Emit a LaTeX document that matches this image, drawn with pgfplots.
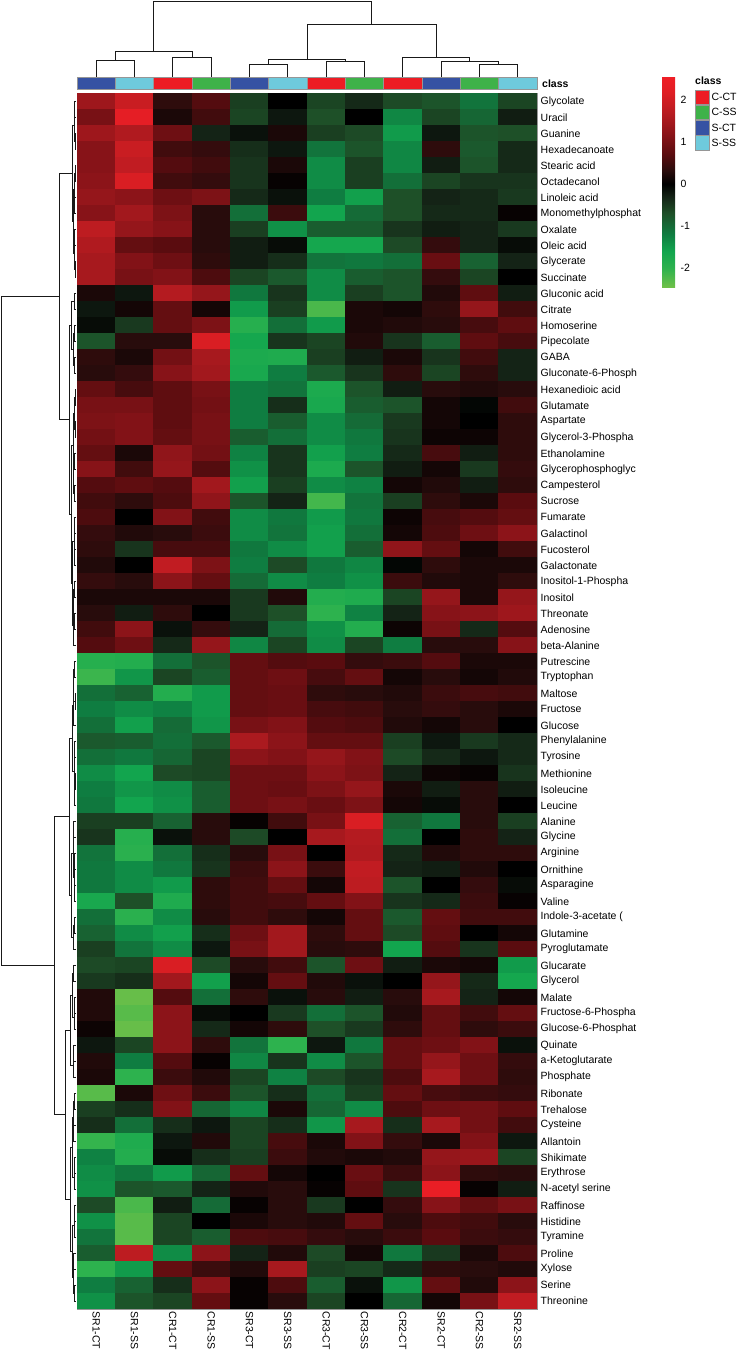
\documentclass[border=0pt]{standalone}
\usepackage{fontspec}
\setmainfont{Liberation Sans}
\usepackage{pgfplots}
\usepackage{pgfplotstable}
\pgfplotsset{compat=1.18}

\definecolor{cCT}{RGB}{237,28,36}
\definecolor{cSS}{RGB}{62,178,73}
\definecolor{sCT}{RGB}{54,82,163}
\definecolor{sSS}{RGB}{110,202,220}
\definecolor{cellgrid}{RGB}{150,150,150}
\definecolor{dendro}{RGB}{25,25,25}
\newcommand\lab{\fontsize{10.5}{12}\selectfont}

\pgfdeclareplotmark{cell}{%
  \pgfpathrectangle{\pgfpoint{-19.4pt}{-8.2pt}}{\pgfpoint{38.8pt}{16.4pt}}%
  \pgfusepathqfill}

\pgfplotsset{
  colormap={gbr}{
    rgb255(0cm)=(110,192,72)
    rgb255(0.45cm)=(45,178,78)
    rgb255(0.85cm)=(18,165,78)
    rgb255(1.25cm)=(15,125,65)
    rgb255(1.75cm)=(30,80,40)
    rgb255(2.15cm)=(20,35,22)
    rgb255(2.45cm)=(0,0,0)
    rgb255(2.75cm)=(40,12,12)
    rgb255(3.15cm)=(90,12,15)
    rgb255(3.65cm)=(140,20,25)
    rgb255(4.15cm)=(185,28,33)
    rgb255(4.65cm)=(225,30,36)
    rgb255(5.01cm)=(240,30,38)
  },
  dend/.style={dendro, line width=0.9pt, mark=none},
}

% heatmap values, row-major: 76 metabolites x 12 samples
% columns: SR1-CT SR1-SS CR1-CT CR1-SS SR3-CT SR3-SS CR3-CT CR3-SS CR2-CT SR2-CT CR2-SS SR2-SS
\pgfplotstableread[row sep=\\]{
v\\
1.4\\1.9\\0.35\\0.65\\-0.55\\0.0\\-0.6\\-0.35\\-0.65\\-0.75\\-1.1\\-0.6\\
1.0\\2.3\\0.2\\0.5\\-0.6\\-0.2\\-0.7\\0.0\\-1.3\\-0.6\\-0.95\\-0.25\\
1.4\\1.6\\0.9\\-0.3\\-0.15\\0.2\\-0.55\\-0.65\\-1.5\\-0.2\\-0.75\\-0.7\\
1.15\\1.9\\0.5\\0.4\\-0.4\\-0.2\\-1.1\\-0.75\\-1.3\\0.35\\-0.8\\-0.35\\
1.15\\1.8\\0.65\\0.5\\-0.45\\0.2\\-1.35\\-0.55\\-1.3\\-0.25\\-0.75\\-0.35\\
1.2\\2.1\\0.5\\0.4\\-0.45\\0.05\\-1.35\\-0.55\\-1.05\\-0.6\\-0.45\\-0.45\\
1.3\\1.2\\0.9\\1.05\\-0.35\\-0.15\\-1.2\\-1.55\\-0.7\\-0.3\\-0.35\\-0.5\\
1.15\\1.45\\1.05\\0.3\\-1.05\\0.45\\-1.6\\-1.0\\-0.7\\-0.35\\-0.35\\0.05\\
1.75\\1.3\\1.15\\0.3\\-0.55\\-1.4\\-0.85\\-0.85\\-0.45\\-0.25\\-0.3\\-0.5\\
1.6\\0.8\\0.7\\0.3\\-0.25\\-0.1\\-1.65\\-1.65\\-0.65\\0.4\\-0.3\\-0.1\\
1.5\\1.1\\0.9\\0.35\\-0.25\\-0.4\\-1.1\\-1.15\\-1.05\\0.85\\-0.9\\-0.3\\
1.5\\1.0\\1.1\\0.6\\-0.6\\-0.8\\-1.35\\-0.85\\-0.75\\0.4\\-0.6\\0.0\\
0.2\\-0.2\\1.65\\1.3\\-1.15\\-0.45\\-1.35\\-0.55\\-0.75\\0.25\\0.75\\-0.25\\
-0.2\\0.15\\0.8\\0.15\\-1.5\\-0.55\\-2.2\\0.2\\0.15\\0.35\\1.3\\0.5\\
-0.1\\-0.5\\0.8\\1.05\\-1.9\\-1.05\\-1.5\\0.2\\0.25\\0.3\\0.55\\0.75\\
-0.75\\0.3\\0.3\\2.1\\-1.65\\-0.45\\-0.6\\0.25\\-0.45\\-0.85\\0.75\\0.55\\
0.35\\0.2\\0.95\\1.5\\-1.75\\-1.8\\-0.55\\-0.25\\0.2\\-0.45\\0.5\\-0.3\\
0.3\\0.4\\1.15\\1.45\\-1.7\\-1.2\\-0.8\\-0.45\\0.35\\-0.6\\0.35\\-0.3\\
0.8\\0.55\\0.75\\1.0\\-1.2\\-1.1\\-1.75\\-0.75\\-0.25\\0.3\\0.25\\0.3\\
1.0\\1.0\\0.75\\0.95\\-1.2\\-0.4\\-1.7\\-0.85\\-0.75\\0.15\\-0.05\\0.5\\
1.05\\1.1\\0.75\\1.0\\-1.2\\-0.85\\-1.35\\-1.0\\-0.5\\0.15\\0.0\\0.35\\
0.95\\1.1\\0.8\\1.0\\-0.85\\-1.05\\-1.35\\-1.15\\-0.45\\0.1\\0.1\\0.35\\
0.8\\0.2\\1.25\\0.95\\-1.25\\-0.45\\-1.55\\-1.2\\-0.35\\0.55\\-0.25\\0.35\\
1.15\\0.5\\1.3\\0.65\\-1.4\\-0.45\\-1.75\\-0.75\\-0.25\\0.15\\-0.5\\0.4\\
0.65\\0.75\\0.65\\1.45\\-1.55\\-0.55\\-1.35\\-1.25\\0.15\\0.25\\-0.25\\0.35\\
0.5\\0.35\\0.6\\1.25\\-0.75\\-0.3\\-2.15\\-1.1\\-0.55\\0.35\\0.2\\0.7\\
0.6\\0.0\\1.1\\0.5\\-1.35\\-1.15\\-1.5\\-1.15\\0.1\\0.55\\0.65\\0.8\\
0.4\\0.25\\0.3\\0.45\\-1.35\\-1.1\\-1.55\\-1.05\\0.15\\0.6\\0.9\\1.2\\
0.35\\-0.45\\0.55\\0.55\\-1.15\\-1.35\\-1.55\\-0.85\\1.25\\0.8\\0.15\\0.5\\
0.25\\0.0\\1.8\\1.05\\-1.2\\-0.65\\-1.15\\-1.3\\-0.05\\0.35\\0.2\\0.2\\
0.4\\0.3\\1.2\\0.8\\-1.0\\-1.35\\-1.2\\-1.4\\0.45\\0.25\\0.2\\0.35\\
0.2\\0.2\\0.2\\0.2\\-0.5\\0.25\\-1.85\\-1.8\\-0.6\\1.3\\0.2\\1.3\\
0.3\\-0.25\\0.35\\0.0\\-0.5\\-0.7\\-2.0\\-1.25\\-0.3\\1.15\\1.2\\1.4\\
0.5\\1.2\\-0.15\\0.4\\-0.3\\-1.0\\-1.4\\-1.85\\0.1\\1.0\\-0.35\\0.65\\
0.65\\0.9\\-0.35\\1.3\\-1.3\\-0.6\\-1.35\\-0.6\\-1.2\\0.3\\0.3\\1.15\\
-1.9\\-1.85\\-1.05\\-0.75\\0.8\\0.65\\0.7\\0.4\\0.45\\0.65\\0.2\\0.2\\
-2.1\\-1.45\\-0.6\\-0.85\\0.8\\0.9\\0.55\\0.8\\0.15\\0.3\\0.15\\0.25\\
-1.05\\-0.9\\-1.85\\-1.5\\0.8\\0.85\\0.35\\0.3\\0.25\\0.45\\0.55\\0.5\\
-1.2\\-1.35\\-1.25\\-1.5\\0.8\\0.85\\0.55\\0.5\\0.3\\0.4\\0.3\\0.2\\
-1.05\\-1.55\\-1.0\\-1.45\\1.0\\1.1\\0.65\\0.6\\0.25\\0.15\\0.3\\0.0\\
-0.8\\-0.85\\-1.05\\-0.8\\1.55\\1.2\\0.8\\0.8\\-0.55\\-0.2\\-0.5\\-0.35\\
-1.05\\-1.15\\-0.95\\-0.6\\1.2\\1.1\\1.3\\1.1\\-0.65\\-0.35\\-0.2\\-0.35\\
-1.35\\-1.6\\-0.65\\-0.6\\0.9\\0.9\\1.2\\1.05\\-0.3\\0.1\\0.05\\-0.45\\
-1.2\\-1.45\\-1.35\\-0.85\\0.9\\0.85\\1.05\\1.3\\0.2\\-0.25\\0.3\\-0.25\\
-1.15\\-1.6\\-1.4\\-0.85\\0.9\\1.0\\0.85\\1.05\\0.15\\-0.1\\0.3\\0.0\\
-0.55\\-0.55\\-0.9\\0.3\\0.05\\0.5\\1.0\\2.1\\-0.9\\-1.15\\0.3\\-0.55\\
-0.45\\-1.9\\-0.15\\0.3\\-0.65\\0.0\\1.5\\1.65\\-1.05\\0.0\\0.35\\-0.3\\
-1.1\\-1.95\\-1.05\\-0.4\\0.3\\1.0\\0.0\\1.6\\-0.35\\0.25\\0.35\\0.35\\
-1.15\\-1.35\\-1.15\\-0.45\\0.45\\1.2\\0.45\\1.8\\-0.3\\-0.25\\0.25\\0.0\\
-1.15\\-1.35\\-1.5\\0.35\\0.5\\0.8\\0.15\\1.75\\-0.75\\0.0\\0.4\\-0.1\\
-1.7\\-0.7\\-1.8\\0.35\\0.5\\0.55\\0.8\\1.1\\-0.45\\-0.35\\0.45\\0.05\\
-1.05\\-1.95\\-1.35\\0.3\\0.5\\0.35\\0.15\\0.8\\-0.8\\0.8\\0.5\\0.5\\
-0.9\\-1.35\\-1.55\\-0.4\\0.9\\1.45\\0.35\\0.8\\-0.65\\0.75\\0.0\\0.15\\
-0.55\\-1.1\\-1.35\\-0.2\\1.0\\1.45\\0.3\\0.35\\-1.6\\0.65\\-0.45\\0.7\\
-0.65\\-0.6\\2.1\\-0.65\\0.3\\0.5\\-0.75\\0.9\\-0.25\\0.2\\0.15\\-1.5\\
-0.5\\-0.4\\1.45\\-1.55\\0.15\\0.8\\0.25\\-0.15\\0.0\\1.3\\-0.35\\-1.65\\
0.25\\-2.4\\0.65\\-1.05\\0.35\\-0.15\\0.3\\-0.25\\0.3\\1.5\\-0.3\\0.15\\
0.25\\-2.3\\1.2\\-0.1\\0.0\\-0.5\\-1.05\\-0.75\\0.25\\0.8\\0.5\\0.8\\
0.1\\-2.4\\1.2\\-0.35\\0.15\\0.35\\-0.7\\-0.5\\0.35\\0.8\\0.35\\0.45\\
-0.2\\-0.6\\1.2\\0.35\\-1.1\\-2.0\\-0.2\\-1.15\\0.8\\0.9\\1.1\\-0.15\\
0.25\\-1.2\\0.65\\0.05\\-1.3\\-0.45\\-1.35\\-0.75\\0.8\\1.3\\0.9\\0.4\\
0.2\\-2.0\\0.45\\0.25\\-0.6\\-1.25\\-0.65\\-0.45\\0.6\\1.5\\0.9\\0.35\\
-2.3\\0.2\\0.9\\0.45\\-0.75\\-0.4\\-1.05\\-0.55\\0.8\\0.55\\0.45\\0.4\\
-0.55\\-0.4\\1.1\\-0.95\\-1.3\\0.2\\-0.95\\-1.35\\0.6\\0.9\\0.95\\0.75\\
-0.4\\-1.05\\-0.4\\-0.2\\-0.6\\-0.4\\-1.45\\1.5\\-0.4\\1.5\\0.95\\0.5\\
-2.05\\-1.8\\-0.2\\0.25\\-0.6\\0.55\\0.2\\1.1\\0.4\\0.2\\1.1\\-0.2\\
-1.25\\-1.85\\-0.1\\-0.4\\-0.55\\0.45\\0.25\\0.2\\0.25\\1.3\\1.35\\-0.6\\
-1.35\\-1.15\\-1.5\\-0.95\\0.8\\0.15\\0.0\\0.85\\0.45\\1.2\\0.35\\0.3\\
-1.4\\-0.75\\-0.8\\-0.3\\0.25\\0.3\\0.05\\0.75\\-0.45\\2.4\\0.05\\-0.25\\
-0.65\\-2.2\\-0.25\\-1.0\\0.05\\0.3\\-0.5\\0.0\\0.4\\1.15\\0.8\\1.0\\
-1.4\\-2.3\\-0.6\\0.0\\0.2\\0.3\\0.25\\0.8\\0.3\\0.6\\0.5\\0.3\\
-1.1\\-2.3\\-0.6\\-0.85\\0.6\\0.55\\0.4\\0.3\\0.45\\0.7\\0.45\\0.4\\
-0.85\\1.75\\-1.35\\1.2\\-0.3\\0.25\\-0.65\\0.15\\-1.15\\-0.5\\0.2\\0.6\\
-2.0\\-1.5\\0.8\\0.45\\0.25\\1.5\\-0.55\\-0.6\\-0.35\\0.35\\0.3\\0.25\\
-1.2\\-0.9\\-0.4\\1.2\\0.05\\0.6\\-0.85\\-0.15\\-1.45\\0.8\\0.25\\1.2\\
-1.4\\-0.75\\-0.6\\0.8\\0.05\\0.3\\-0.6\\0.0\\-0.95\\0.15\\1.0\\1.8\\
}\heat
\pgfplotstablecreatecol[create col/expr={floor((\pgfplotstablerow+0.5)/12)}]{r}\heat
\pgfplotstablecreatecol[create col/expr={\pgfplotstablerow-12*floor((\pgfplotstablerow+0.5)/12)}]{c}\heat

\begin{document}
\begin{tikzpicture}
\path[use as bounding box] (0pt,0pt) rectangle (742pt,-1358pt);

% ---------------- heatmap ----------------
\begin{axis}[
  at={(77pt,-93.3pt)}, anchor=north west,
  width=460pt, height=1216pt, scale only axis,
  xmin=-0.5, xmax=11.5, ymin=-0.5, ymax=75.5, y dir=reverse,
  colormap name=gbr, point meta min=-2.45, point meta max=2.56,
  xtick={0,...,11},
  xticklabels={SR1-CT,SR1-SS,CR1-CT,CR1-SS,SR3-CT,SR3-SS,CR3-CT,CR3-SS,CR2-CT,SR2-CT,CR2-SS,SR2-SS},
  xticklabel pos=lower,
  xticklabel style={rotate=-90, anchor=west, font=\lab, inner sep=2pt},
  ytick={0,...,75},
  yticklabels={Glycolate,Uracil,Guanine,Hexadecanoate,Stearic acid,Octadecanol,Linoleic acid,Monomethylphosphat,Oxalate,Oleic acid,Glycerate,Succinate,Gluconic acid,Citrate,Homoserine,Pipecolate,GABA,Gluconate-6-Phosph,Hexanedioic acid,Glutamate,Aspartate,Glycerol-3-Phospha,Ethanolamine,Glycerophosphoglyc,Campesterol,Sucrose,Fumarate,Galactinol,Fucosterol,Galactonate,Inositol-1-Phospha,Inositol,Threonate,Adenosine,beta-Alanine,Putrescine,Tryptophan,Maltose,Fructose,Glucose,Phenylalanine,Tyrosine,Methionine,Isoleucine,Leucine,Alanine,Glycine,Arginine,Ornithine,Asparagine,Valine,{Indole-3-acetate (},Glutamine,Pyroglutamate,Glucarate,Glycerol,Malate,Fructose-6-Phospha,Glucose-6-Phosphat,Quinate,a-Ketoglutarate,Phosphate,Ribonate,Trehalose,Cysteine,Allantoin,Shikimate,Erythrose,N-acetyl serine,Raffinose,Histidine,Tyramine,Proline,Xylose,Serine,Threonine},
  yticklabel pos=right,
  yticklabel style={anchor=west, font=\lab, inner sep=2pt, xshift=1.5pt},
  major tick length=0pt, minor tick length=0pt,
  minor xtick={-0.5,0.5,...,11.5},
  minor ytick={-0.5,0.5,...,75.5},
  xminorgrids=true, yminorgrids=true,
  minor grid style={cellgrid, line width=0.8pt},
  axis line style={cellgrid, line width=0.8pt},
  axis on top,
  colorbar,
  colorbar style={
    at={(parent axis.north east)}, anchor=north west,
    xshift=116.5pt, yshift=17.3pt,
    width=13pt, height=211pt, scale only axis,
    y dir=normal,
    ytick={-2,-1,0,1,2},
    yticklabels={-2,-1,0,1,2},
    yticklabel style={font=\lab, xshift=2pt},
    major tick length=0pt,
    axis line style={draw=none},
  },
]
\addplot[scatter, only marks, mark=cell, point meta=explicit,
  scatter/use mapped color={draw=none, fill=mapped color}]
  table[x=c, y=r, meta=v] {\heat};
\end{axis}

% ---------------- class bar + legend ----------------
\begin{axis}[
  at={(77pt,-77.7pt)}, anchor=north west,
  width=460pt, height=11.6pt, scale only axis,
  xmin=-0.5, xmax=11.5, ymin=0, ymax=1,
  hide axis, clip=false,
  legend image code/.code={\draw[#1, draw=cellgrid, line width=0.8pt] (0pt,-7.25pt) rectangle (14pt,7.25pt);},
  legend style={at={(1.3435,0)}, anchor=north west, draw=none, fill=none,
    inner sep=0pt, row sep=0pt, font=\lab, cells={anchor=west},
    nodes={inner sep=1.5pt, text height=9pt, text depth=2.5pt}},
]
\addplot[ybar, bar width=1, bar shift=0pt, fill=cCT, draw=cellgrid, line width=0.8pt] coordinates {(2,1) (6,1) (8,1)};
\addlegendentry{C-CT}
\addplot[ybar, bar width=1, bar shift=0pt, fill=cSS, draw=cellgrid, line width=0.8pt] coordinates {(3,1) (7,1) (10,1)};
\addlegendentry{C-SS}
\addplot[ybar, bar width=1, bar shift=0pt, fill=sCT, draw=cellgrid, line width=0.8pt] coordinates {(0,1) (4,1) (9,1)};
\addlegendentry{S-CT}
\addplot[ybar, bar width=1, bar shift=0pt, fill=sSS, draw=cellgrid, line width=0.8pt] coordinates {(1,1) (5,1) (11,1)};
\addlegendentry{S-SS}
\node[anchor=west, font=\lab\bfseries, inner sep=0pt, xshift=5pt] at (axis description cs:1,0.5) {class};
\node[anchor=west, font=\lab\bfseries, inner sep=0pt] at (axis description cs:1.3435,0.75) {class};
\end{axis}

% ---------------- column dendrogram ----------------
\begin{axis}[
  at={(77pt,-76.7pt)}, anchor=south west,
  width=460pt, height=75.7pt, scale only axis,
  xmin=-0.5, xmax=11.5, ymin=0, ymax=75.7,
  hide axis, clip=false,
]
\addplot[dend] coordinates {(0,0)(0,16.7)(1,16.7)(1,0)};
\addplot[dend] coordinates {(2,0)(2,19.4)(3,19.4)(3,0)};
\addplot[dend] coordinates {(0.5,16.7)(0.5,25)(2.5,25)(2.5,19.4)};
\addplot[dend] coordinates {(4,0)(4,12)(5,12)(5,0)};
\addplot[dend] coordinates {(6,0)(6,15)(7,15)(7,0)};
\addplot[dend] coordinates {(4.5,12)(4.5,17.7)(6.5,17.7)(6.5,15)};
\addplot[dend] coordinates {(10,0)(10,12.4)(11,12.4)(11,0)};
\addplot[dend] coordinates {(9,0)(9,15)(10.5,15)(10.5,12.4)};
\addplot[dend] coordinates {(8,0)(8,19.4)(9.75,19.4)(9.75,15)};
\addplot[dend] coordinates {(5.5,17.7)(5.5,52.4)(8.875,52.4)(8.875,19.4)};
\addplot[dend] coordinates {(1.5,25)(1.5,75.7)(7.1875,75.7)(7.1875,52.4)};
\end{axis}

% ---------------- row dendrogram ----------------
\begin{axis}[
  at={(0pt,-93.3pt)}, anchor=north west,
  width=76pt, height=1216pt, scale only axis,
  xmin=0, xmax=76, x dir=reverse,
  ymin=-0.5, ymax=75.5, y dir=reverse,
  hide axis, clip=false,
]
\addplot[dend] coordinates {(0,0)(1.2,0)(1.2,1)(0,1)};
\addplot[dend] coordinates {(0,2)(1.0,2)(1.0,3)(0,3)};
\addplot[dend] coordinates {(1.2,0.5)(2.0,0.5)(2.0,2.5)(1.0,2.5)};
\addplot[dend] coordinates {(0,4)(0.8,4)(0.8,5)(0,5)};
\addplot[dend] coordinates {(0,6)(1.5,6)(1.5,7)(0,7)};
\addplot[dend] coordinates {(0,8)(1.2,8)(1.2,9)(0,9)};
\addplot[dend] coordinates {(0,10)(1.0,10)(1.0,11)(0,11)};
\addplot[dend] coordinates {(0.8,4.5)(2.0,4.5)(2.0,6.5)(1.5,6.5)};
\addplot[dend] coordinates {(1.2,8.5)(1.8,8.5)(1.8,10.5)(1.0,10.5)};
\addplot[dend] coordinates {(2.0,5.5)(2.6,5.5)(2.6,9.5)(1.8,9.5)};
\addplot[dend] coordinates {(2.0,1.5)(4,1.5)(4,7.5)(2.6,7.5)};
\addplot[dend] coordinates {(0,12)(1.5,12)(1.5,13)(0,13)};
\addplot[dend] coordinates {(0,14)(2,14)(2,15)(0,15)};
\addplot[dend] coordinates {(0,16)(1.2,16)(1.2,17)(0,17)};
\addplot[dend] coordinates {(2,14.5)(3,14.5)(3,16.5)(1.2,16.5)};
\addplot[dend] coordinates {(1.5,12.5)(4.5,12.5)(4.5,15.5)(3,15.5)};
\addplot[dend] coordinates {(0,18)(1.0,18)(1.0,19)(0,19)};
\addplot[dend] coordinates {(0,20)(0.9,20)(0.9,21)(0,21)};
\addplot[dend] coordinates {(1.0,18.5)(1.8,18.5)(1.8,20.5)(0.9,20.5)};
\addplot[dend] coordinates {(0,22)(1.3,22)(1.3,23)(0,23)};
\addplot[dend] coordinates {(0,24)(1.6,24)(1.6,25)(0,25)};
\addplot[dend] coordinates {(1.3,22.5)(2.2,22.5)(2.2,24.5)(1.6,24.5)};
\addplot[dend] coordinates {(1.8,19.5)(2.8,19.5)(2.8,23.5)(2.2,23.5)};
\addplot[dend] coordinates {(0,26)(1.2,26)(1.2,27)(0,27)};
\addplot[dend] coordinates {(0,28)(1.4,28)(1.4,29)(0,29)};
\addplot[dend] coordinates {(1.2,26.5)(2.0,26.5)(2.0,28.5)(1.4,28.5)};
\addplot[dend] coordinates {(0,30)(1.5,30)(1.5,31)(0,31)};
\addplot[dend] coordinates {(0,32)(1.8,32)(1.8,33)(0,33)};
\addplot[dend] coordinates {(1.5,30.5)(2.4,30.5)(2.4,32.5)(1.8,32.5)};
\addplot[dend] coordinates {(2.4,31.5)(3.0,31.5)(3.0,34)(0,34)};
\addplot[dend] coordinates {(2.0,27.5)(3.4,27.5)(3.4,32.75)(3.0,32.75)};
\addplot[dend] coordinates {(2.8,21.5)(4.3,21.5)(4.3,30.125)(3.4,30.125)};
\addplot[dend] coordinates {(4.5,14.0)(7,14.0)(7,25.8125)(4.3,25.8125)};
\addplot[dend] coordinates {(4,4.5)(17,4.5)(17,19.906)(7,19.906)};
\addplot[dend] coordinates {(0,35)(1.5,35)(1.5,36)(0,36)};
\addplot[dend] coordinates {(0,37)(1.0,37)(1.0,38)(0,38)};
\addplot[dend] coordinates {(1.5,35.5)(2.2,35.5)(2.2,37.5)(1.0,37.5)};
\addplot[dend] coordinates {(2.2,36.5)(2.6,36.5)(2.6,39)(0,39)};
\addplot[dend] coordinates {(0,40)(1.3,40)(1.3,41)(0,41)};
\addplot[dend] coordinates {(0,42)(1.0,42)(1.0,43)(0,43)};
\addplot[dend] coordinates {(1.0,42.5)(1.4,42.5)(1.4,44)(0,44)};
\addplot[dend] coordinates {(1.3,40.5)(2.0,40.5)(2.0,43.25)(1.4,43.25)};
\addplot[dend] coordinates {(2.6,37.75)(4,37.75)(4,41.875)(2.0,41.875)};
\addplot[dend] coordinates {(0,45)(2.5,45)(2.5,46)(0,46)};
\addplot[dend] coordinates {(0,47)(1.2,47)(1.2,48)(0,48)};
\addplot[dend] coordinates {(0,49)(1.5,49)(1.5,50)(0,50)};
\addplot[dend] coordinates {(1.2,47.5)(2.0,47.5)(2.0,49.5)(1.5,49.5)};
\addplot[dend] coordinates {(2.5,45.5)(3,45.5)(3,48.5)(2.0,48.5)};
\addplot[dend] coordinates {(0,51)(1.4,51)(1.4,52)(0,52)};
\addplot[dend] coordinates {(1.4,51.5)(2.2,51.5)(2.2,53)(0,53)};
\addplot[dend] coordinates {(3,47.0)(4.5,47.0)(4.5,52.25)(2.2,52.25)};
\addplot[dend] coordinates {(4,39.8125)(7,39.8125)(7,49.625)(4.5,49.625)};
\addplot[dend] coordinates {(0,54)(2.5,54)(2.5,55)(0,55)};
\addplot[dend] coordinates {(0,56)(1.5,56)(1.5,57)(0,57)};
\addplot[dend] coordinates {(1.5,56.5)(1.8,56.5)(1.8,58)(0,58)};
\addplot[dend] coordinates {(2.5,54.5)(3.5,54.5)(3.5,57.25)(1.8,57.25)};
\addplot[dend] coordinates {(0,59)(2.2,59)(2.2,60)(0,60)};
\addplot[dend] coordinates {(2.2,59.5)(2.6,59.5)(2.6,61)(0,61)};
\addplot[dend] coordinates {(3.5,55.875)(5.5,55.875)(5.5,60.25)(2.6,60.25)};
\addplot[dend] coordinates {(0,62)(2.0,62)(2.0,63)(0,63)};
\addplot[dend] coordinates {(0,64)(2.4,64)(2.4,65)(0,65)};
\addplot[dend] coordinates {(2.0,62.5)(3,62.5)(3,64.5)(2.4,64.5)};
\addplot[dend] coordinates {(0,66)(1.5,66)(1.5,67)(0,67)};
\addplot[dend] coordinates {(1.5,66.5)(2.0,66.5)(2.0,68)(0,68)};
\addplot[dend] coordinates {(3,63.5)(3.8,63.5)(3.8,67.25)(2.0,67.25)};
\addplot[dend] coordinates {(0,69)(1.2,69)(1.2,70)(0,70)};
\addplot[dend] coordinates {(1.2,69.5)(1.6,69.5)(1.6,71)(0,71)};
\addplot[dend] coordinates {(0,72)(2.5,72)(2.5,73)(0,73)};
\addplot[dend] coordinates {(0,74)(2.0,74)(2.0,75)(0,75)};
\addplot[dend] coordinates {(2.5,72.5)(3.0,72.5)(3.0,74.5)(2.0,74.5)};
\addplot[dend] coordinates {(1.6,70.25)(3.6,70.25)(3.6,73.5)(3.0,73.5)};
\addplot[dend] coordinates {(3.8,65.375)(5.5,65.375)(5.5,71.875)(3.6,71.875)};
\addplot[dend] coordinates {(5.5,58.0625)(11,58.0625)(11,68.625)(5.5,68.625)};
\addplot[dend] coordinates {(7,44.72)(22,44.72)(22,63.34)(11,63.34)};
\addplot[dend] coordinates {(17,12.203)(74.3,12.203)(74.3,54.03)(22,54.03)};
\end{axis}
\end{tikzpicture}
\end{document}
